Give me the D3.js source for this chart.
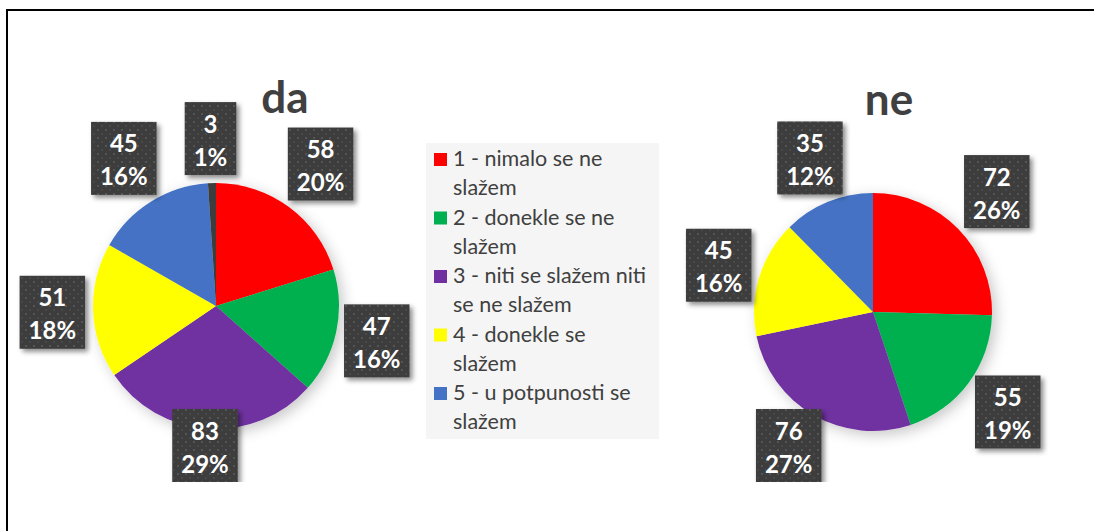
<!DOCTYPE html>
<html>
<head>
<meta charset="utf-8">
<script src="https://cdn.jsdelivr.net/npm/d3@7"></script>
<style>
  body { margin: 0; background: #fff; }
  svg { display: block; font-family: Lato, "Open Sans", sans-serif; }
</style>
</head>
<body>
<svg id="chart" width="1094" height="531"></svg>
<script>
// categories (legend lines as shown in the picture)
var categories = [
  ["1 - nimalo se ne", "slažem"],
  ["2 - donekle se ne", "slažem"],
  ["3 - niti se slažem niti", "se ne slažem"],
  ["4 - donekle se", "slažem"],
  ["5 - u potpunosti se", "slažem"]
];
var colors = ["#ff0000", "#00b050", "#7030a0", "#ffff00", "#4472c4", "#3d3d3d"];

var daValues = [58, 47, 83, 51, 45, 3];
var daPercents = ["20%", "16%", "29%", "18%", "16%", "1%"];
var neValues = [72, 55, 76, 45, 35];
var nePercents = ["26%", "19%", "27%", "16%", "12%"];

var W = 1094, H = 531, clipBottom = 482;

var svg = d3.select("#chart");
var defs = svg.append("defs");

defs.append("clipPath").attr("id", "clip")
  .append("rect").attr("x", 0).attr("y", 0).attr("width", W).attr("height", clipBottom);

var pat = defs.append("pattern").attr("id", "dots")
  .attr("width", 8).attr("height", 8).attr("patternUnits", "userSpaceOnUse");
pat.append("rect").attr("width", 8).attr("height", 8).attr("fill", "#3e3e3e");
pat.append("rect").attr("x", 1).attr("y", 1).attr("width", 2).attr("height", 2).attr("fill", "#545454");
pat.append("rect").attr("x", 5).attr("y", 5).attr("width", 2).attr("height", 2).attr("fill", "#4a4a4a");

var f1 = defs.append("filter").attr("id", "pieShadow")
  .attr("x", "-30%").attr("y", "-30%").attr("width", "160%").attr("height", "160%");
f1.append("feDropShadow").attr("dx", 4).attr("dy", 4).attr("stdDeviation", 7)
  .attr("flood-color", "#000").attr("flood-opacity", 0.22);

var f2 = defs.append("filter").attr("id", "boxShadow")
  .attr("x", "-30%").attr("y", "-30%").attr("width", "160%").attr("height", "160%");
f2.append("feDropShadow").attr("dx", 3).attr("dy", 3).attr("stdDeviation", 2.5)
  .attr("flood-color", "#000").attr("flood-opacity", 0.45);

var root = svg.append("g").attr("clip-path", "url(#clip)");

function drawPie(cx, cy, r, values, percents, title, tx, ty) {
  var pie = d3.pie().sort(null).value(function(d) { return d; });
  var arc = d3.arc().innerRadius(0).outerRadius(r);
  var arcs = pie(values);

  var g = root.append("g");
  g.append("text")
    .attr("x", tx).attr("y", ty)
    .attr("text-anchor", "middle")
    .attr("font-size", 44).attr("font-weight", "bold")
    .attr("fill", "#404040")
    .text(title);

  g.append("g")
    .attr("transform", "translate(" + cx + "," + cy + ")")
    .attr("filter", "url(#pieShadow)")
    .selectAll("path")
    .data(arcs)
    .enter().append("path")
    .attr("d", arc)
    .attr("fill", function(d, i) { return colors[i]; });

  var labels = g.append("g");
  arcs.forEach(function(d, i) {
    var lines = [String(values[i]), percents[i]];
    var lg = labels.append("g");
    var rect = lg.append("rect");
    var texts = lg.selectAll("text").data(lines).enter().append("text")
      .attr("text-anchor", "middle")
      .attr("font-size", 24).attr("font-weight", "bold")
      .attr("fill", "#fff")
      .text(function(t) { return t; });
    var tw = 0;
    texts.each(function() { tw = Math.max(tw, this.getComputedTextLength()); });
    var bw = tw + 18, bh = 73;
    var a = (d.startAngle + d.endAngle) / 2;
    var ux = Math.sin(a), uy = -Math.cos(a);
    var dd = Math.min(Math.abs(ux) > 1e-6 ? bw / 2 / Math.abs(ux) : 1e9,
                      Math.abs(uy) > 1e-6 ? bh / 2 / Math.abs(uy) : 1e9);
    var dist = r + 8 + dd;
    var lx = cx + ux * dist, ly = cy + uy * dist;
    if (ly + bh / 2 > clipBottom) ly = clipBottom - bh / 2;
    var left = lx - bw / 2, top = ly - bh / 2;
    rect.attr("x", left).attr("y", top).attr("width", bw).attr("height", bh)
      .attr("fill", "url(#dots)").attr("filter", "url(#boxShadow)");
    texts.attr("x", lx).attr("y", function(t, k) { return top + 30.5 + k * 33; });
  });
}

drawPie(216, 306, 123, daValues, daPercents, "da", 285, 113);
drawPie(873, 312, 119, neValues, nePercents, "ne", 889, 115);

// legend
var legend = root.append("g");
legend.append("rect")
  .attr("x", 426).attr("y", 143).attr("width", 233).attr("height", 296)
  .attr("fill", "#f5f5f5");
categories.forEach(function(lines, i) {
  var y0 = 166 + i * 58.5;
  legend.append("rect")
    .attr("x", 434).attr("y", y0 - 13).attr("width", 13).attr("height", 13)
    .attr("fill", colors[i]);
  lines.forEach(function(t, k) {
    legend.append("text")
      .attr("x", 453).attr("y", y0 + k * 29)
      .attr("font-size", 21.5).attr("fill", "#404040")
      .text(t);
  });
});

// outer frame
svg.append("path")
  .attr("d", "M7," + H + " V10 H" + W)
  .attr("fill", "none").attr("stroke", "#000").attr("stroke-width", 2);
</script>
</body>
</html>
